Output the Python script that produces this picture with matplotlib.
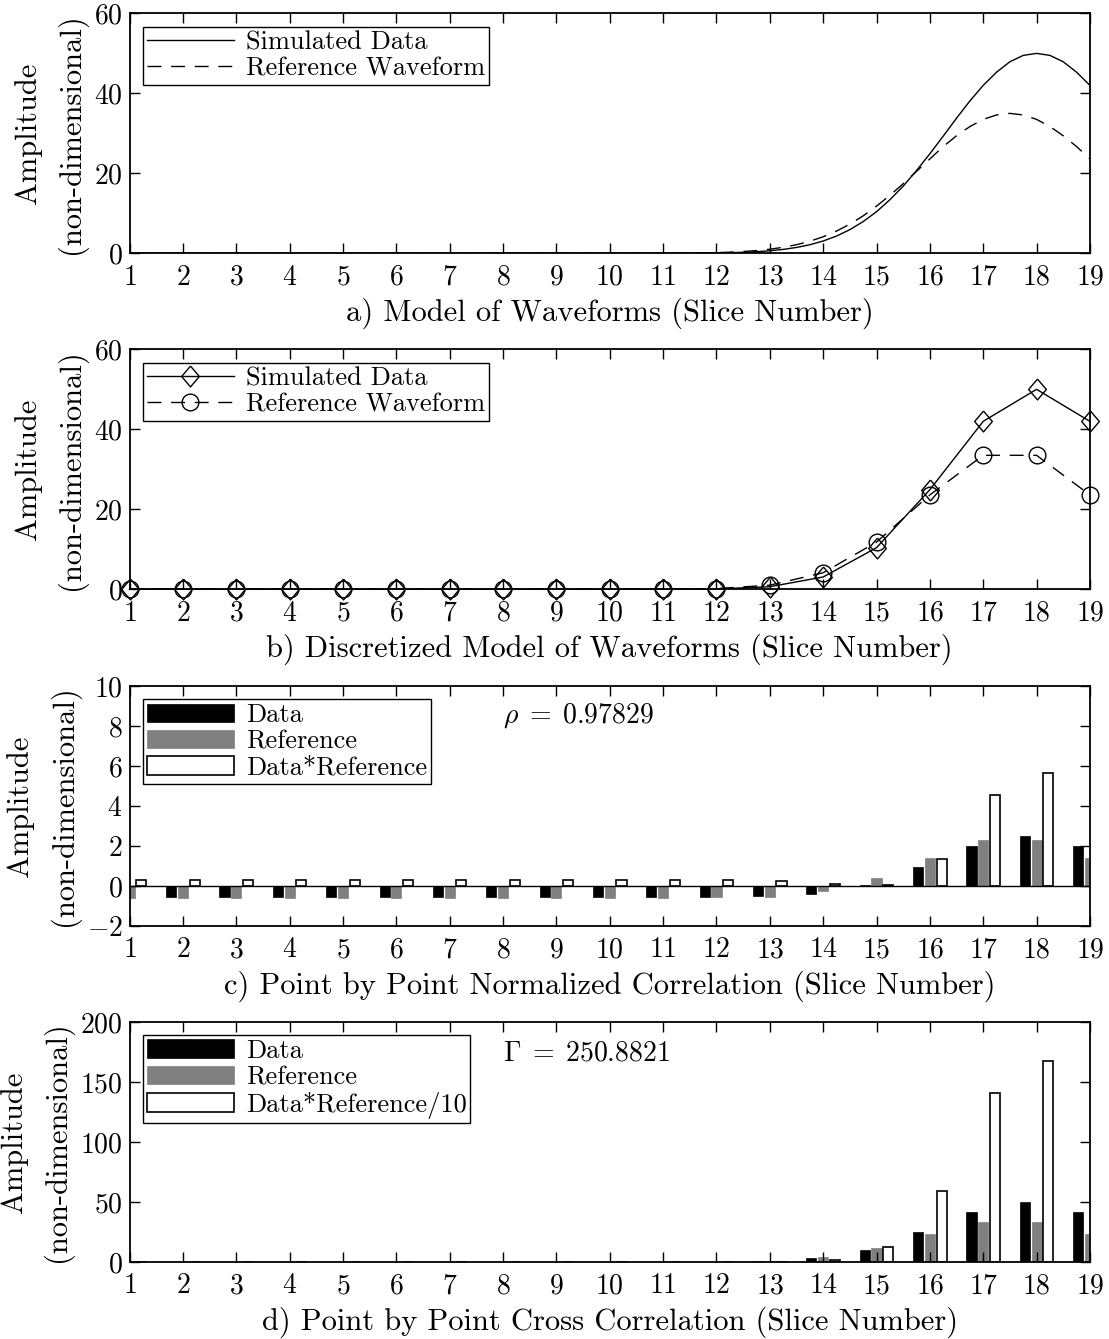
import matplotlib

matplotlib.use("Agg")
import matplotlib.pyplot as plt
import numpy as np

plt.rcParams["font.family"] = ["cmr10", "DejaVu Serif"]
plt.rcParams["mathtext.fontset"] = "cm"
plt.rcParams["axes.formatter.use_mathtext"] = True
plt.rcParams["axes.unicode_minus"] = True

# slice numbers
slices = np.arange(1, 20)

# a) continuous waveforms (sampled every quarter slice from 11 to 19)
curve_x = np.concatenate(([1.0], np.arange(11.0, 19.01, 0.25)))
sim_curve = [0.0,
             0.01, 0.02, 0.03, 0.05, 0.09, 0.16, 0.26, 0.41, 0.64, 0.98, 1.47, 2.15,
             3.08, 4.31, 5.92, 7.94, 10.4, 13.4, 16.8, 20.7, 24.9, 29.3, 33.8, 38.1,
             42.0, 45.3, 47.9, 49.5, 50.0, 49.5, 47.9, 45.3, 42.0]
ref_curve = [0.0,
             0.02, 0.04, 0.07, 0.11, 0.18, 0.29, 0.45, 0.69, 1.03, 1.51, 2.16, 3.02,
             4.14, 5.56, 7.30, 9.37, 11.8, 14.5, 17.4, 20.5, 23.6, 26.7, 29.4, 31.7,
             33.5, 34.6, 35.0, 34.6, 33.5, 31.7, 29.4, 26.7, 23.6]

# b) discretized waveforms, one value per slice
sim_disc = [0, 0, 0, 0, 0, 0, 0, 0, 0, 0, 0, 0.09, 0.64, 3.08, 10.4, 24.9, 42.0, 50.0, 42.0]
ref_disc = [0, 0, 0, 0, 0, 0, 0, 0, 0, 0, 0, 0.18, 1.03, 4.14, 11.8, 23.6, 33.5, 33.5, 23.6]

# c) normalized point by point correlation
data_norm = [-0.54] * 11 + [-0.54, -0.52, -0.40, 0.04, 0.95, 1.98, 2.48, 1.98]
ref_norm = [-0.58] * 11 + [-0.57, -0.53, -0.25, 0.40, 1.40, 2.30, 2.30, 1.40]
prod_norm = [0.31] * 11 + [0.31, 0.27, 0.11, 0.03, 1.35, 4.53, 5.65, 2.77]
rho_text = r"$\rho\;=\;0.97829$"

# d) cross correlation
prod_cross = [0] * 11 + [0.0, 0.07, 1.28, 12.3, 58.8, 140.7, 167.5, 99.1]
gamma_text = r"$\Gamma\;=\;250.8821$"

xlabels = [
    "a) Model of Waveforms (Slice Number)",
    "b) Discretized Model of Waveforms (Slice Number)",
    "c) Point by Point Normalized Correlation (Slice Number)",
    "d) Point by Point Cross Correlation (Slice Number)",
]

TICK_FS = 20
LABEL_FS = 22
LEG_FS = 19

fig = plt.figure(figsize=(11.09, 13.39), dpi=100)
left, width, height = 0.1168, 0.866, 0.1792
bottoms = [0.8108, 0.5599, 0.3084, 0.0575]
axes = [fig.add_axes([left, b, width, height]) for b in bottoms]


def style_axis(ax, ylim, yticks, xlabel):
    ax.set_xlim(1, 19)
    ax.set_ylim(*ylim)
    ax.set_xticks(slices)
    ax.set_yticks(yticks)
    ax.tick_params(direction="in", top=True, right=True, length=7, width=1,
                   labelsize=TICK_FS)
    ax.tick_params(axis="x", pad=8)
    ax.tick_params(axis="y", pad=5)
    for sp in ax.spines.values():
        sp.set_linewidth(1.3)
    ax.set_xlabel(xlabel, fontsize=LABEL_FS, labelpad=5)
    ax.set_ylabel("Amplitude\n(non-dimensional)", fontsize=LABEL_FS,
                  linespacing=1.6, labelpad=5)


def add_legend(ax):
    leg = ax.legend(loc="upper left", fontsize=LEG_FS, frameon=True,
                    fancybox=False, framealpha=1, edgecolor="black",
                    borderpad=0.15, borderaxespad=0.5, labelspacing=0.1,
                    handlelength=3.3, handletextpad=0.45, handleheight=0.7)
    leg.get_frame().set_linewidth(1.0)
    return leg


# a) continuous model
ax = axes[0]
ax.plot(curve_x, sim_curve, color="black", lw=1.0, label="Simulated Data")
ax.plot(curve_x, ref_curve, color="black", lw=1.0, dashes=(10, 7),
        label="Reference Waveform")
style_axis(ax, (0, 60), [0, 20, 40, 60], xlabels[0])
add_legend(ax)

# b) discretized model
diamond = [(0, 1), (0.85, 0), (0, -1), (-0.85, 0), (0, 1)]
ax = axes[1]
ax.plot(slices, sim_disc, color="black", lw=1.0, marker=diamond, ms=15,
        mfc="none", mec="black", mew=1.0, clip_on=False, label="Simulated Data")
ax.plot(slices, ref_disc, color="black", lw=1.0, dashes=(10, 7), marker="o",
        ms=12, mfc="none", mec="black", mew=1.0, clip_on=False,
        label="Reference Waveform")
style_axis(ax, (0, 60), [0, 20, 40, 60], xlabels[1])
add_legend(ax)


def grouped_bars(ax, a, b, c, labels):
    w = 0.19
    off = 0.22
    ax.bar(slices - off, a, width=w, color="black", edgecolor="black",
           linewidth=0.5, label=labels[0])
    ax.bar(slices, b, width=w, color="#808080", edgecolor="#808080",
           linewidth=0.5, label=labels[1])
    ax.bar(slices + off, c, width=w, color="white", edgecolor="black",
           linewidth=1.2, label=labels[2])


# c) normalized correlation
ax = axes[2]
grouped_bars(ax, data_norm, ref_norm, prod_norm,
             ["Data", "Reference", "Data*Reference"])
ax.axhline(0, color="black", lw=1.0)
style_axis(ax, (-2, 10), [-2, 0, 2, 4, 6, 8, 10], xlabels[2])
add_legend(ax)
ax.text(8.0, 8.5, rho_text, fontsize=TICK_FS, va="center", ha="left")

# d) cross correlation
ax = axes[3]
grouped_bars(ax, sim_disc, ref_disc, prod_cross,
             ["Data", "Reference", "Data*Reference/10"])
style_axis(ax, (0, 200), [0, 50, 100, 150, 200], xlabels[3])
add_legend(ax)
ax.text(8.0, 174, gamma_text, fontsize=TICK_FS, va="center", ha="left")

fig.savefig("out.png", dpi=100)
plt.close(fig)
print("Saved out.png")
